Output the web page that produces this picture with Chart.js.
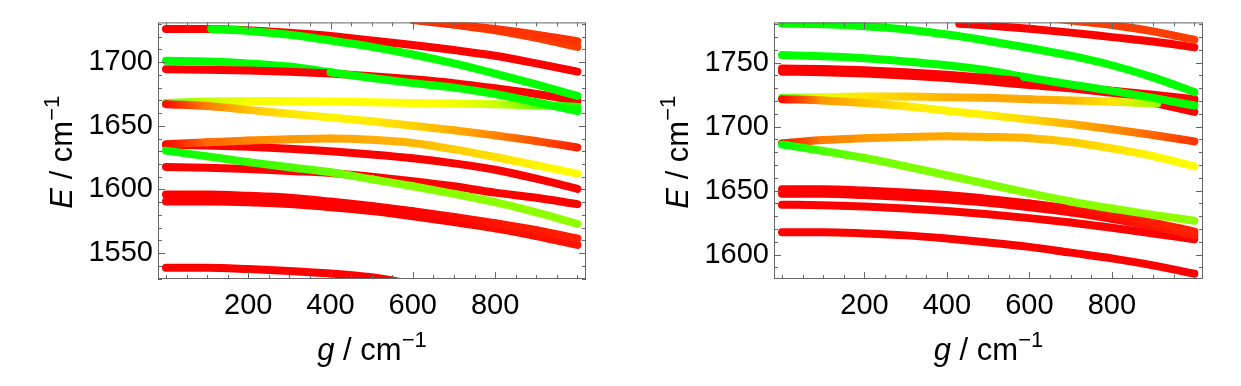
<!DOCTYPE html>
<html lang="en">
<head>
    <meta charset="UTF-8">
    <script src="https://cdn.jsdelivr.net/npm/chart.js@4.4.1/dist/chart.umd.min.js"></script>
    <style>
        body { margin: 0; background: #fff; }
        .panel { position: absolute; top: 0; }
    </style>
    <title>E vs g</title>
</head>
<body>
    <canvas id="chartLeft" class="panel" width="620" height="386" style="left:0"></canvas>
    <canvas id="chartRight" class="panel" width="621" height="386" style="left:620px"></canvas>

<script>
// axis ranges and ticks
const xRange = [-19.4, 1021];
const xTicks = [200, 400, 600, 800];
const leftYRange = [1529.7, 1731.2];
const leftYTicks = [1550, 1600, 1650, 1700];
const rightYRange = [1580.9, 1781.5];
const rightYTicks = [1600, 1650, 1700, 1750];

// curves: [g, E, mix]   mix 0 = red ... 0.5 = yellow ... 1 = green
// ---- left panel ----
const L_T1 = [[600,1733,0.1],[700,1729.5,0.1],[800,1726,0.1],[900,1721.5,0.1],[1000,1716.5,0.1]];
const L_T2 = [[600,1733.5,0.12],[700,1729.5,0.12],[800,1725,0.12],[900,1719,0.12],[1000,1712,0.12]];
const L_R1 = [[0,1726,0],[100,1726,0],[200,1725,0],[300,1723,0],[400,1720.5,0],[500,1717,0],[600,1713.5,0],[700,1709.5,0],[800,1705,0],[900,1699,0],[1000,1692.5,0]];
const L_G1 = [[110,1726,1],[200,1724.5,1],[300,1721.5,1],[400,1717,1],[500,1712,1],[600,1706,1],[700,1699,1],[800,1691,1],[900,1682.5,1],[1000,1673.5,1]];
const L_G2a = [[0,1701,1],[100,1700.5,1],[200,1699,1],[300,1696.5,1],[400,1692,1]];
const L_G2b = [[400,1692,1],[500,1687.5,1],[600,1683.5,1],[700,1680,1],[800,1675,1],[900,1668.5,1],[1000,1661.5,1]];
const L_R2 = [[0,1694.5,0],[100,1694,0],[200,1693.5,0],[300,1692.5,0],[400,1691,0],[500,1689,0],[600,1686.5,0],[700,1683.5,0],[800,1679.5,0],[900,1675,0],[1000,1669.5,0]];
const L_Y1 = [[0,1667,0.02],[100,1665.5,0.25],[200,1662.5,0.38],[300,1659.5,0.45],[400,1656.5,0.48],[500,1653.5,0.46],[600,1650,0.41],[700,1646.5,0.34],[800,1642.5,0.26],[900,1638,0.16],[1000,1633,0.06]];
const L_Y2 = [[0,1668,0.78],[100,1669,0.62],[200,1669.5,0.52],[300,1669.5,0.5],[400,1669,0.5],[500,1668.5,0.5],[600,1668,0.5],[700,1667.5,0.52],[800,1667,0.6],[900,1666,0.8],[1000,1665,0.95]];
const L_O1 = [[0,1635.5,0.02],[100,1637,0.2],[200,1638.5,0.26],[300,1639.5,0.3],[400,1640,0.32],[500,1639,0.34],[600,1636.5,0.36],[700,1631.5,0.4],[800,1625.5,0.44],[900,1619,0.48],[1000,1612.5,0.5]];
const L_G3 = [[0,1630.5,1],[100,1626,0.95],[200,1621.5,0.9],[300,1617.5,0.85],[400,1613.5,0.8],[500,1608,0.75],[600,1602.5,0.74],[700,1596.5,0.73],[800,1590,0.72],[900,1582,0.72],[1000,1573,0.72]];
const L_R3 = [[0,1617.7,0],[100,1617,0],[200,1616,0],[300,1614.5,0],[400,1613,0],[500,1610,0],[600,1606.5,0],[700,1602.5,0],[800,1597.5,0],[900,1593.5,0],[1000,1588.5,0]];
const L_R4 = [[0,1635,0],[100,1634.5,0],[200,1633.5,0],[300,1632,0],[400,1630,0],[500,1627.5,0],[600,1624.5,0],[700,1620.5,0],[800,1615.5,0],[900,1608.5,0],[1000,1600.5,0]];
const L_R5 = [[0,1596,0],[100,1596,0],[200,1595,0],[300,1593.5,0],[400,1590.5,0],[500,1587,0],[600,1583,0],[700,1578.5,0.02],[800,1573.5,0.04],[900,1568,0.05],[1000,1561.5,0.06]];
const L_R6 = [[0,1590.5,0],[100,1590.5,0],[200,1590,0],[300,1588.5,0],[400,1586,0],[500,1583,0],[600,1579,0],[700,1574.5,0],[800,1569.5,0.02],[900,1563.5,0.03],[1000,1556.5,0.04]];
const L_R7 = [[0,1538.5,0],[100,1538.5,0],[200,1537.5,0],[300,1536,0],[400,1534,0],[500,1531,0],[550,1528.5,0],[600,1525,0]];

// ---- right panel ----
const R_T1 = [[650,1785,0.12],[700,1783,0.12],[800,1779.5,0.12],[900,1774.5,0.12],[1000,1768,0.12]];
const R_T2 = [[430,1780.5,0],[500,1779,0],[600,1776.5,0],[700,1773.5,0],[800,1770,0],[900,1766.5,0],[1000,1762,0]];
const R_G1 = [[0,1780.5,1],[100,1780,1],[200,1778.5,1],[300,1776,1],[400,1772,1],[500,1767,1],[600,1761.5,1],[700,1755.5,1],[800,1748,1],[900,1738.5,1],[1000,1727,1]];
const R_G2a = [[0,1756,1],[100,1755,1],[200,1753.5,1],[300,1751,1],[400,1748,1],[500,1744,1],[586,1739,1]];
const R_G2b = [[586,1739,1],[700,1733,1],[800,1728,1],[900,1722.5,1],[1000,1716.5,1]];
const R_R1 = [[0,1745.5,0],[100,1745,0],[200,1744,0],[300,1742.5,0],[400,1740.5,0],[500,1738,0],[600,1735,0],[700,1731.5,0],[800,1728,0],[900,1725,0],[1000,1721.5,0]];
const R_R2 = [[0,1743,0],[100,1742.5,0],[200,1741.5,0],[300,1740,0],[400,1738,0],[500,1735.5,0],[600,1732.5,0],[700,1730,0],[800,1726.5,0],[900,1723,0],[1000,1720,0]];
const R_Y1 = [[0,1721.5,0.02],[100,1720.5,0.3],[200,1718.5,0.38],[300,1716,0.45],[400,1712.5,0.48],[500,1709,0.47],[600,1705.5,0.42],[700,1702,0.35],[800,1698,0.28],[900,1693.5,0.2],[1000,1688.5,0.1]];
const R_Y2 = [[0,1722.5,0.8],[100,1723,0.55],[200,1723.5,0.45],[300,1723.5,0.4],[400,1723,0.35],[500,1722.5,0.33],[600,1721.5,0.33],[700,1720.5,0.36],[800,1719.5,0.45],[910,1718,0.7]];
const R_R3 = [[910,1718,0],[1000,1711.5,0]];
const R_O1 = [[0,1687,0.02],[100,1689.5,0.25],[200,1691,0.3],[300,1692,0.32],[400,1692.5,0.33],[500,1692,0.34],[600,1691,0.36],[700,1688,0.4],[800,1683,0.44],[900,1677,0.48],[1000,1669,0.5]];
const R_G3 = [[0,1686,1],[100,1681,0.85],[200,1675.5,0.78],[300,1669,0.75],[400,1662,0.75],[500,1655,0.75],[600,1648,0.74],[700,1641.5,0.73],[800,1636,0.73],[900,1631,0.72],[1000,1626.5,0.72]];
const R_R4 = [[0,1651,0],[100,1651,0],[200,1650,0],[300,1648.5,0],[400,1646.5,0],[500,1643.5,0],[600,1640,0],[700,1636,0.02],[800,1631,0.04],[900,1625,0.06],[1000,1618,0.07]];
const R_R5 = [[0,1647.5,0],[100,1647.5,0],[200,1646.5,0],[300,1645,0],[400,1643,0],[500,1640.5,0],[600,1637,0],[700,1633,0],[800,1628,0.02],[900,1622,0.04],[1000,1615,0.05]];
const R_R6 = [[0,1639,0],[100,1638.5,0],[200,1637.5,0],[300,1636,0],[400,1634,0],[500,1631.5,0],[600,1628.5,0],[700,1625,0],[800,1621,0],[900,1616.5,0],[1000,1612,0]];
const R_R7 = [[0,1617.5,0],[100,1617.5,0],[200,1616.5,0],[300,1615,0],[400,1612.5,0],[500,1609.5,0],[600,1606,0],[700,1601.5,0],[800,1597,0],[900,1591.5,0],[1000,1585,0]];

// drawing order: first = on top
const leftCurves = [L_G2b, L_G1, L_Y1, L_Y2, L_G3, L_O1, L_T1, L_T2, L_R1, L_R2, L_G2a, L_R3, L_R4, L_R5, L_R6, L_R7];
const rightCurves = [R_G2b, R_G1, R_Y1, R_Y2, R_R3, R_G3, R_O1, R_T1, R_T2, R_R1, R_R2, R_G2a, R_R4, R_R5, R_R6, R_R7];

const FONT = '"Liberation Sans", Arial, sans-serif';

function mixColor(m) {
    return 'hsl(' + (m * 120).toFixed(1) + ', 100%, 50%)';
}

function toDataset(points) {
    return {
        data: points.map(p => ({ x: p[0], y: p[1] })),
        mix: points.map(p => p[2]),
        borderColor: mixColor(points[0][2]),
        borderWidth: 8,
        borderCapStyle: 'round',
        borderJoinStyle: 'round',
        pointRadius: 0,
        cubicInterpolationMode: 'monotone',
        clip: 0,
        segment: {
            borderColor: ctx => {
                const ds = ctx.chart.data.datasets[ctx.datasetIndex];
                const m0 = ds.mix[ctx.p0DataIndex], m1 = ds.mix[ctx.p1DataIndex];
                if (m0 === m1) return mixColor(m0);
                const grad = ctx.chart.ctx.createLinearGradient(ctx.p0.x, ctx.p0.y, ctx.p1.x, ctx.p1.y);
                grad.addColorStop(0, mixColor(m0));
                grad.addColorStop(1, mixColor(m1));
                return grad;
            }
        }
    };
}

function drawTitle(ctx, x, y, rotate, letter) {
    const parts = [
        { text: letter, font: 'italic 31px ' + FONT, dy: 0 },
        { text: ' / cm', font: '31px ' + FONT, dy: 0 },
        { text: '\u22121', font: '22px ' + FONT, dy: -13 }
    ];
    ctx.save();
    ctx.translate(x, y);
    if (rotate) ctx.rotate(-Math.PI / 2);
    let total = 0;
    parts.forEach(p => { ctx.font = p.font; p.w = ctx.measureText(p.text).width; total += p.w; });
    let cx = -total / 2;
    ctx.fillStyle = '#000';
    ctx.textAlign = 'left';
    ctx.textBaseline = 'alphabetic';
    parts.forEach(p => { ctx.font = p.font; ctx.fillText(p.text, cx, p.dy); cx += p.w; });
    ctx.restore();
}

// frame with inward major/minor ticks on all four sides, plus axis titles
const framePlugin = {
    id: 'frame',
    afterDatasetsDraw(chart, args, opts) {
        const { ctx, chartArea: a, scales: { x, y } } = chart;
        ctx.save();
        ctx.strokeStyle = '#666';
        ctx.lineWidth = 1;
        ctx.strokeRect(a.left + 0.5, a.top + 0.5, a.right - a.left - 1, a.bottom - a.top - 1);
        ctx.beginPath();
        for (let v = 0; v <= 1000; v += 50) {
            const len = xTicks.includes(v) ? 7 : 4;
            const px = Math.round(x.getPixelForValue(v)) + 0.5;
            ctx.moveTo(px, a.bottom); ctx.lineTo(px, a.bottom - len);
            ctx.moveTo(px, a.top); ctx.lineTo(px, a.top + len);
        }
        for (let v = Math.ceil(y.min / 10) * 10; v <= y.max; v += 10) {
            const len = opts.yTicks.includes(v) ? 7 : 4;
            const py = Math.round(y.getPixelForValue(v)) + 0.5;
            ctx.moveTo(a.left, py); ctx.lineTo(a.left + len, py);
            ctx.moveTo(a.right, py); ctx.lineTo(a.right - len, py);
        }
        ctx.stroke();
        ctx.restore();
    },
    afterDraw(chart) {
        const { ctx, chartArea: a } = chart;
        drawTitle(ctx, (a.left + a.right) / 2, 360, false, 'g');
        drawTitle(ctx, a.left - 86, (a.top + a.bottom) / 2 + 1.5, true, 'E');
    }
};

function makeChart(canvasId, curves, yRange, yTicks, yWidth, rightPad) {
    return new Chart(document.getElementById(canvasId), {
        type: 'line',
        data: { datasets: curves.map(toDataset) },
        options: {
            responsive: false,
            animation: false,
            layout: { padding: { top: 14, right: rightPad, left: 0, bottom: 0 } },
            plugins: {
                legend: { display: false },
                tooltip: { enabled: false },
                frame: { yTicks: yTicks }
            },
            scales: {
                x: {
                    type: 'linear',
                    min: xRange[0],
                    max: xRange[1],
                    grid: { display: false, drawTicks: false },
                    border: { display: false },
                    ticks: { color: '#000', font: { family: FONT, size: 29 }, padding: 10, autoSkip: false, maxRotation: 0, callback: v => String(v) },
                    afterBuildTicks: s => { s.ticks = xTicks.map(v => ({ value: v })); },
                    afterFit: s => { s.height = 107; }
                },
                y: {
                    type: 'linear',
                    min: yRange[0],
                    max: yRange[1],
                    grid: { display: false, drawTicks: false },
                    border: { display: false },
                    ticks: { color: '#000', font: { family: FONT, size: 29 }, padding: 5, autoSkip: false, callback: v => String(v) },
                    afterBuildTicks: s => { s.ticks = yTicks.map(v => ({ value: v })); },
                    afterFit: s => { s.width = yWidth; }
                }
            }
        },
        plugins: [framePlugin]
    });
}

makeChart('chartLeft', leftCurves, leftYRange, leftYTicks, 158, 34);
makeChart('chartRight', rightCurves, rightYRange, rightYTicks, 154, 38);
</script>
</body>
</html>
